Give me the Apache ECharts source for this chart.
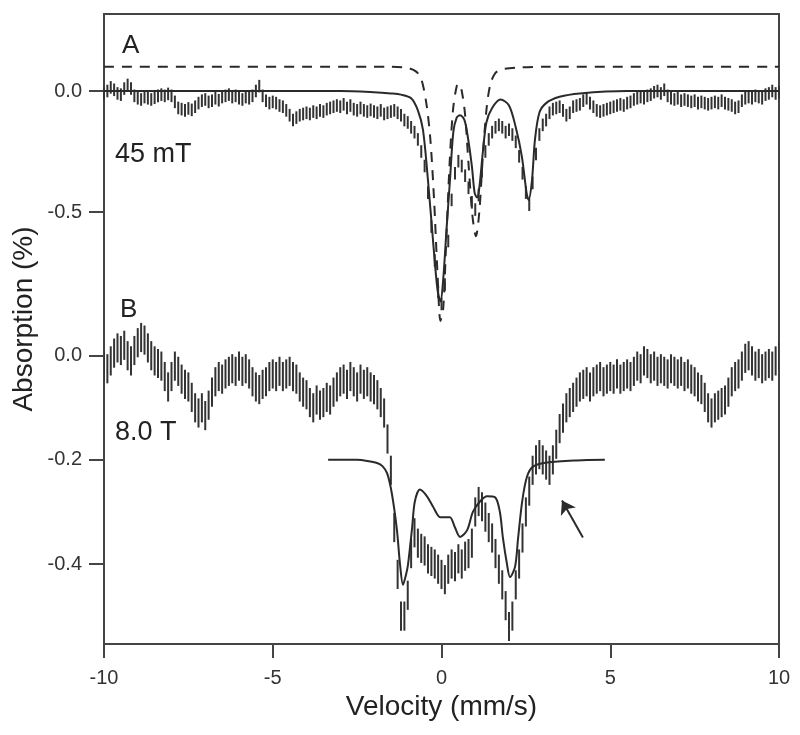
<!DOCTYPE html>
<html>
<head>
<meta charset="utf-8">
<script src="https://cdn.jsdelivr.net/npm/echarts@6.0.0/dist/echarts.min.js"></script>
<style>
  html, body { margin: 0; padding: 0; background: #fff; }
  #chart { width: 800px; height: 735px; }
</style>
</head>
<body>
<div id="chart"></div>
<script>
// channel velocities (mm/s): -10 .. 10
const velStart = -10;
const velStep = 0.1;

// panel A, 45 mT: absorption (%) per channel
const absA = [
  -0.01, 0.0, 0.015, 0.005, -0.01, -0.015, 0.01, 0.025, 0.01, -0.02,
  -0.03, -0.035, -0.025, -0.03, -0.035, -0.028, -0.02, -0.015, -0.02, -0.012,
  -0.02, -0.045, -0.07, -0.075, -0.08, -0.072, -0.078, -0.065, -0.05, -0.04,
  -0.035, -0.045, -0.04, -0.03, -0.038, -0.025, -0.02, -0.015, -0.025, -0.02,
  -0.03, -0.035, -0.025, -0.03, -0.02, 0.0, 0.02, -0.02, -0.04, -0.05,
  -0.045, -0.05, -0.06, -0.065, -0.08, -0.1, -0.12, -0.11, -0.1, -0.095,
  -0.09, -0.095, -0.085, -0.09, -0.08, -0.085, -0.075, -0.07, -0.065, -0.06,
  -0.065, -0.055, -0.07, -0.06, -0.075, -0.08, -0.07, -0.08, -0.085, -0.078,
  -0.085, -0.09, -0.08, -0.095, -0.09, -0.085, -0.08, -0.09, -0.1, -0.12,
  -0.13, -0.15, -0.17, -0.2, -0.25, -0.31, -0.42, -0.56, -0.7, -0.83,
  -0.88, -0.8, -0.62, -0.45, -0.34, -0.29, -0.31, -0.35, -0.4, -0.46,
  -0.49, -0.43, -0.33, -0.25, -0.2, -0.17, -0.15, -0.14, -0.15, -0.17,
  -0.16, -0.18, -0.21, -0.27, -0.34, -0.42, -0.47, -0.38, -0.26, -0.18,
  -0.14, -0.12, -0.09, -0.075, -0.07, -0.065, -0.08, -0.1, -0.09, -0.065,
  -0.06, -0.055, -0.04, -0.03, -0.05, -0.065, -0.08, -0.085, -0.08, -0.075,
  -0.07, -0.065, -0.06, -0.055, -0.06, -0.05, -0.045, -0.035, -0.03, -0.025,
  -0.03, -0.02, -0.015, -0.005, 0.0, -0.01, 0.005, -0.02, -0.03, -0.035,
  -0.03, -0.04, -0.035, -0.04, -0.045, -0.04, -0.05, -0.045, -0.05, -0.055,
  -0.05, -0.045, -0.05, -0.04, -0.05, -0.055, -0.06, -0.07, -0.065, -0.04,
  -0.03, -0.025, -0.03, -0.02, -0.025, -0.03, -0.015, -0.01, 0.0, -0.01,
  -0.005
];
const errA = 0.026;

// panel A fit (solid)
const fitAVel = [-10, -3, -2, -1.5, -1.2, -0.9, -0.7, -0.55, -0.4, -0.25, -0.12, -0.03, 0.05, 0.15, 0.25, 0.35, 0.45, 0.55, 0.68, 0.78, 0.9, 0.98, 1.05, 1.12, 1.22, 1.33, 1.5, 1.75, 2.0, 2.2, 2.38, 2.52, 2.58, 2.68, 2.77, 2.9, 3.1, 3.5, 4.1, 5.5, 10];
const fitAVal = [0, 0, -0.005, -0.01, -0.015, -0.03, -0.08, -0.16, -0.37, -0.62, -0.82, -0.87, -0.78, -0.57, -0.37, -0.17, -0.11, -0.1, -0.12, -0.19, -0.31, -0.42, -0.44, -0.4, -0.26, -0.13, -0.07, -0.035, -0.06, -0.15, -0.27, -0.42, -0.45, -0.37, -0.2, -0.09, -0.05, -0.024, -0.01, 0, 0];

// panel A component (dashed, shifted up)
const compAVel = [-10, -1.5, -1.0, -0.75, -0.6, -0.45, -0.33, -0.22, -0.12, -0.03, 0.05, 0.14, 0.24, 0.34, 0.45, 0.52, 0.6, 0.7, 0.8, 0.92, 1.02, 1.12, 1.22, 1.33, 1.45, 1.6, 1.8, 2.3, 3, 10];
const compAVal = [0.1, 0.1, 0.095, 0.08, 0.05, -0.05, -0.2, -0.45, -0.75, -0.95, -0.9, -0.62, -0.3, -0.08, 0.02, 0.03, 0.0, -0.1, -0.3, -0.52, -0.6, -0.5, -0.28, -0.08, 0.03, 0.075, 0.09, 0.097, 0.1, 0.1];

// panel B, 8.0 T: absorption (%) per channel
const absB = [
  -0.02, -0.025, -0.01, 0.005, 0.015, 0.01, 0.02, 0.0, -0.01, 0.01,
  0.025, 0.035, 0.03, 0.015, 0.0, -0.01, -0.015, -0.02, -0.04, -0.06,
  -0.04, -0.02, -0.03, -0.045, -0.055, -0.06, -0.08, -0.1, -0.11, -0.1,
  -0.115, -0.095, -0.07, -0.05, -0.04, -0.045, -0.035, -0.03, -0.025, -0.03,
  -0.02, -0.03, -0.025, -0.035, -0.05, -0.06, -0.065, -0.055, -0.05, -0.04,
  -0.035, -0.04, -0.03, -0.04, -0.035, -0.03, -0.04, -0.045, -0.06, -0.07,
  -0.075, -0.09, -0.1, -0.085, -0.095, -0.09, -0.08, -0.085, -0.07, -0.06,
  -0.05, -0.045, -0.055, -0.04, -0.05, -0.06, -0.045, -0.055, -0.05, -0.06,
  -0.065, -0.075, -0.09, -0.11, -0.16, -0.22, -0.33, -0.42, -0.5, -0.5,
  -0.46, -0.38, -0.34, -0.36, -0.37, -0.375, -0.39, -0.395, -0.4, -0.41,
  -0.42, -0.43, -0.41, -0.4, -0.405, -0.39, -0.4, -0.385, -0.38, -0.36,
  -0.3, -0.28, -0.29, -0.31, -0.33, -0.35, -0.38, -0.41, -0.44, -0.48,
  -0.52, -0.5, -0.44, -0.4, -0.35, -0.3, -0.26, -0.22, -0.2, -0.19,
  -0.2, -0.21, -0.22, -0.2, -0.17, -0.14, -0.12, -0.1, -0.09, -0.08,
  -0.07, -0.06, -0.055, -0.05, -0.06, -0.05, -0.045, -0.04, -0.05, -0.045,
  -0.04, -0.045, -0.035, -0.045, -0.04, -0.035, -0.04, -0.03, -0.02, -0.025,
  -0.01, -0.015, -0.025, -0.02, -0.03, -0.025, -0.03, -0.035, -0.025, -0.03,
  -0.035, -0.03, -0.04, -0.035, -0.045, -0.05, -0.06, -0.065, -0.08, -0.1,
  -0.11, -0.1, -0.095, -0.09, -0.085, -0.07, -0.05, -0.04, -0.035, -0.02,
  -0.005, 0.0, -0.01, -0.02, -0.015, -0.025, -0.02, -0.015, -0.02, -0.01,
  0.0
];
const errB = 0.028;

// panel B fit (solid)
const fitBVel = [-3.36, -2.5, -2.2, -1.91, -1.75, -1.61, -1.47, -1.32, -1.23, -1.14, -1.05, -0.99, -0.87, -0.79, -0.64, -0.43, -0.25, -0.04, 0.1, 0.25, 0.4, 0.55, 0.76, 0.93, 1.14, 1.35, 1.59, 1.73, 1.82, 1.94, 2.03, 2.18, 2.27, 2.39, 2.53, 2.71, 3.13, 4.0, 4.84];
const fitBVal = [-0.2, -0.2, -0.202, -0.206, -0.212, -0.226, -0.265, -0.335, -0.4, -0.44, -0.42, -0.4, -0.33, -0.28, -0.257, -0.27, -0.29, -0.31, -0.31, -0.31, -0.33, -0.348, -0.335, -0.3, -0.28, -0.27, -0.272, -0.3, -0.35, -0.4, -0.425, -0.405, -0.35, -0.28, -0.233, -0.213, -0.205, -0.201, -0.2];

// arrow pointing at the fit in panel B: [tail, head]
const arrowB = [[4.19, -0.349], [3.57, -0.278]];

const tickA = [0, -0.5];
const tickB = [0, -0.2, -0.4];

const ink = '#2a2a2a';
const axisInk = '#444';
const font = '"Liberation Sans", Arial, sans-serif';

function withErr(vals, err) {
  return vals.map((y, i) => [+(velStart + i * velStep).toFixed(2), y, err]);
}
function pairs(xs, ys) {
  return xs.map((x, i) => [x, ys[i]]);
}
function errorBar(params, api) {
  const v = api.value(0), y = api.value(1), e = api.value(2);
  const hi = api.coord([v, y + e]);
  const lo = api.coord([v, y - e]);
  return {
    type: 'line',
    shape: { x1: hi[0], y1: hi[1], x2: lo[0], y2: lo[1] },
    style: { stroke: '#333', lineWidth: 2 }
  };
}

const gridBox = { left: 104, right: 21, top: 14, bottom: 91 };
const axisLine = { show: true, onZero: false, lineStyle: { color: axisInk, width: 2 } };

const chart = echarts.init(document.getElementById('chart'));
chart.setOption({
  animation: false,
  grid: [Object.assign({}, gridBox), Object.assign({}, gridBox)],
  xAxis: [
    { gridIndex: 0, type: 'value', min: -10, max: 10, show: false },
    {
      gridIndex: 1, type: 'value', min: -10, max: 10, interval: 5, position: 'bottom',
      axisLine: axisLine,
      axisTick: { show: true, inside: false, length: 14, lineStyle: { color: axisInk, width: 2 } },
      axisLabel: { color: '#333', fontSize: 20, fontFamily: font, margin: 24 },
      splitLine: { show: false },
      name: 'Velocity (mm/s)', nameLocation: 'middle', nameGap: 44,
      nameTextStyle: { color: '#222', fontSize: 28, fontFamily: font }
    },
    {
      gridIndex: 1, type: 'value', min: -10, max: 10, position: 'top',
      axisLine: axisLine, axisTick: { show: false }, axisLabel: { show: false }, splitLine: { show: false }
    }
  ],
  yAxis: [
    {
      gridIndex: 0, type: 'value', min: -553 / 242, max: 77 / 242, position: 'left',
      axisLine: axisLine,
      axisTick: { show: true, inside: false, length: 15, customValues: tickA, lineStyle: { color: axisInk, width: 2 } },
      axisLabel: { customValues: tickA, formatter: v => v.toFixed(1), color: '#333', fontSize: 20, fontFamily: font, margin: 22 },
      splitLine: { show: false }
    },
    {
      gridIndex: 1, type: 'value', min: -0.5536, max: 0.6562, position: 'left',
      axisLine: axisLine,
      axisTick: { show: true, inside: false, length: 15, customValues: tickB, lineStyle: { color: axisInk, width: 2 } },
      axisLabel: { customValues: tickB, formatter: v => v.toFixed(1), color: '#333', fontSize: 20, fontFamily: font, margin: 22 },
      splitLine: { show: false }
    },
    {
      gridIndex: 1, type: 'value', min: -0.5536, max: 0.6562, position: 'right',
      axisLine: axisLine, axisTick: { show: false }, axisLabel: { show: false }, splitLine: { show: false }
    }
  ],
  series: [
    {
      type: 'custom', xAxisIndex: 0, yAxisIndex: 0,
      renderItem: errorBar, encode: { x: 0, y: 1 }, data: withErr(absA, errA), silent: true
    },
    {
      type: 'line', xAxisIndex: 0, yAxisIndex: 0, data: pairs(fitAVel, fitAVal),
      showSymbol: false, smooth: 0.3, silent: true,
      lineStyle: { color: ink, width: 2 }
    },
    {
      type: 'line', xAxisIndex: 0, yAxisIndex: 0, data: pairs(compAVel, compAVal),
      showSymbol: false, smooth: 0.3, silent: true,
      lineStyle: { color: ink, width: 2, type: [10, 8] }
    },
    {
      type: 'custom', xAxisIndex: 1, yAxisIndex: 1, clip: true,
      renderItem: errorBar, encode: { x: 0, y: 1 }, data: withErr(absB, errB), silent: true
    },
    {
      type: 'line', xAxisIndex: 1, yAxisIndex: 1, data: pairs(fitBVel, fitBVal),
      showSymbol: false, smooth: 0.3, silent: true,
      lineStyle: { color: ink, width: 2 },
      markLine: {
        silent: true, symbol: ['none', 'arrow'], symbolSize: 13,
        label: { show: false },
        lineStyle: { color: ink, width: 2, type: 'solid' },
        data: [[{ coord: arrowB[0] }, { coord: arrowB[1] }]]
      }
    }
  ],
  graphic: [
    { type: 'text', x: 122, y: 46, style: { text: 'A', fill: '#222', fontSize: 26, fontFamily: font, verticalAlign: 'middle' } },
    { type: 'text', x: 115, y: 155, style: { text: '45 mT', fill: '#222', fontSize: 27, fontFamily: font, verticalAlign: 'middle' } },
    { type: 'text', x: 120, y: 310, style: { text: 'B', fill: '#222', fontSize: 26, fontFamily: font, verticalAlign: 'middle' } },
    { type: 'text', x: 115, y: 433, style: { text: '8.0 T', fill: '#222', fontSize: 27, fontFamily: font, verticalAlign: 'middle' } },
    {
      type: 'text', x: 24, y: 319, rotation: Math.PI / 2,
      style: { text: 'Absorption (%)', fill: '#222', fontSize: 28, fontFamily: font, align: 'center', verticalAlign: 'middle' }
    }
  ]
});
</script>
</body>
</html>
